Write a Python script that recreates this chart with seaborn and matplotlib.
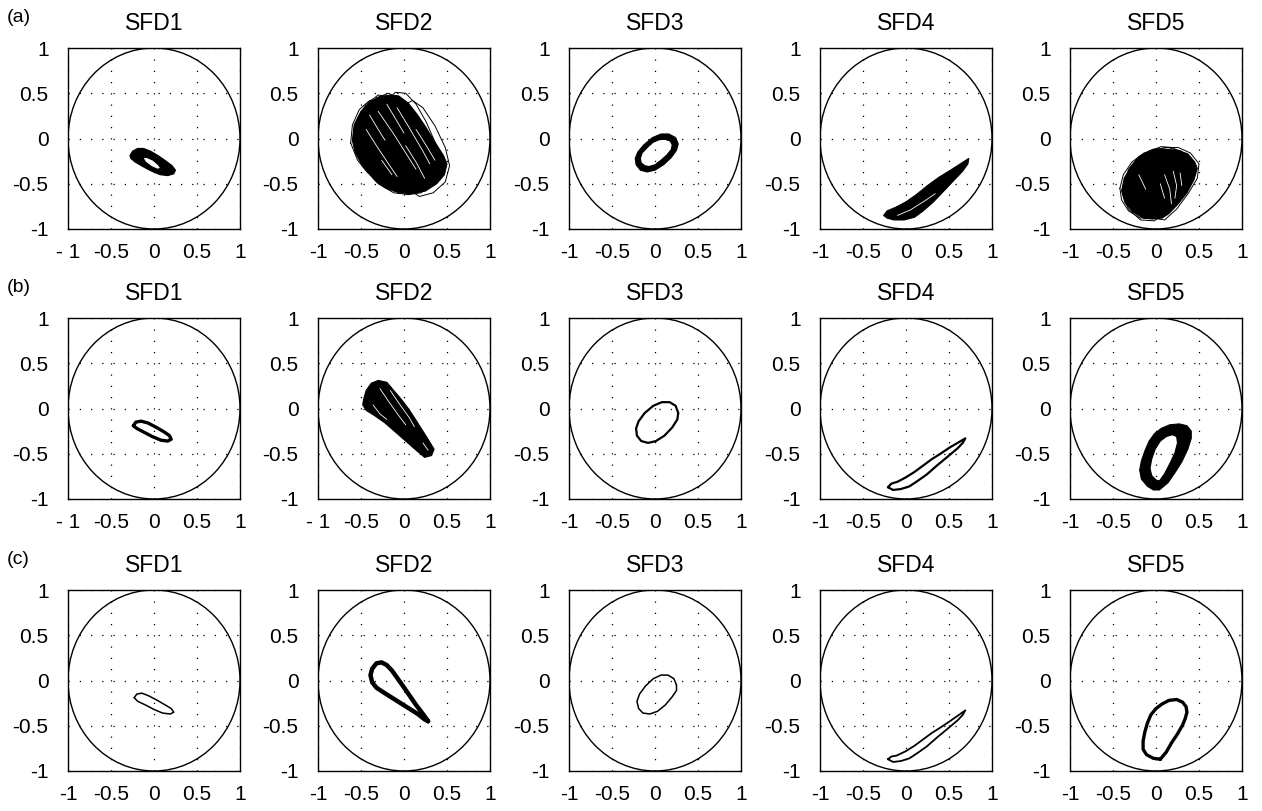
import numpy as np
import pandas as pd
import matplotlib
matplotlib.use('Agg')
import matplotlib.pyplot as plt
from matplotlib.patches import Circle, PathPatch
from matplotlib.path import Path
import seaborn as sns

# Orbit data (journal coordinates, clearance circle radius = 1)
row_labels = ['(a)', '(b)', '(c)']
sfd_names = ['SFD1', 'SFD2', 'SFD3', 'SFD4', 'SFD5']
tick_vals = [-1, -0.5, 0, 0.5, 1]
tick_labels = ['-1', '-0.5', '0', '0.5', '1']
tick_labels_gap = ['- 1', '-0.5', '0', '0.5', '1']

# ---- row (a) ----
a1_outer = [(-0.28, -0.19), (-0.25, -0.14), (-0.19, -0.11), (-0.12, -0.11), (-0.04, -0.14),
            (0.05, -0.19), (0.14, -0.25), (0.21, -0.30), (0.25, -0.35), (0.23, -0.39),
            (0.16, -0.41), (0.07, -0.40), (-0.03, -0.36), (-0.13, -0.31), (-0.22, -0.26),
            (-0.27, -0.22)]
a1_inner = [(-0.13, -0.21), (-0.08, -0.21), (-0.01, -0.24), (0.05, -0.29), (0.08, -0.33),
            (0.04, -0.34), (-0.03, -0.31), (-0.10, -0.26)]

a2_core = [(-0.16, 0.48), (-0.06, 0.47), (0.05, 0.39), (0.15, 0.27), (0.25, 0.13), (0.36, -0.04),
           (0.46, -0.19), (0.50, -0.28), (0.47, -0.40), (0.38, -0.50), (0.25, -0.58), (0.10, -0.61),
           (-0.06, -0.60), (-0.21, -0.55), (-0.34, -0.46), (-0.48, -0.31), (-0.57, -0.15),
           (-0.60, -0.02), (-0.58, 0.15), (-0.50, 0.30), (-0.39, 0.41), (-0.28, 0.46)]
a2_loop1 = [(-0.62, -0.05), (-0.60, 0.15), (-0.52, 0.32), (-0.40, 0.42), (-0.28, 0.43), (-0.18, 0.34),
            (-0.10, 0.18), (-0.05, -0.02), (-0.06, -0.22), (-0.14, -0.38), (-0.28, -0.44),
            (-0.42, -0.38), (-0.54, -0.24)]
a2_loop2 = [(-0.50, 0.10), (-0.44, 0.30), (-0.32, 0.45), (-0.18, 0.50), (-0.06, 0.44), (0.04, 0.28),
            (0.12, 0.08), (0.16, -0.14), (0.12, -0.36), (0.00, -0.52), (-0.16, -0.56), (-0.32, -0.48),
            (-0.44, -0.28), (-0.50, -0.08)]
a2_loop3 = [(-0.30, 0.20), (-0.22, 0.40), (-0.10, 0.51), (0.02, 0.50), (0.14, 0.38), (0.26, 0.18),
            (0.36, -0.04), (0.40, -0.26), (0.34, -0.46), (0.20, -0.60), (0.04, -0.62), (-0.12, -0.52),
            (-0.24, -0.30), (-0.30, -0.04)]
a2_loop4 = [(-0.12, 0.18), (-0.02, 0.36), (0.10, 0.42), (0.22, 0.34), (0.36, 0.14), (0.48, -0.10),
            (0.53, -0.30), (0.48, -0.48), (0.34, -0.60), (0.18, -0.64), (0.04, -0.56), (-0.06, -0.36),
            (-0.12, -0.10)]
a2_loop5 = [(-0.58, 0.00), (-0.54, 0.22), (-0.44, 0.38), (-0.30, 0.48), (-0.14, 0.46), (0.00, 0.32),
            (0.14, 0.10), (0.26, -0.14), (0.30, -0.36), (0.22, -0.54), (0.06, -0.62), (-0.12, -0.60),
            (-0.30, -0.50), (-0.46, -0.32)]
a2_streaks = [[(-0.30, 0.30), (-0.12, 0.05), (0.06, -0.22), (0.14, -0.34)],
              [(-0.08, 0.34), (0.06, 0.12), (0.22, -0.14), (0.30, -0.28)],
              [(-0.44, 0.10), (-0.32, -0.08), (-0.18, -0.28), (-0.08, -0.42)],
              [(0.02, -0.08), (0.14, -0.26), (0.24, -0.44)],
              [(-0.20, 0.38), (-0.10, 0.22), (0.00, 0.06)],
              [(-0.40, 0.26), (-0.30, 0.10), (-0.22, -0.02)],
              [(0.14, 0.10), (0.26, -0.08), (0.36, -0.24)],
              [(-0.26, -0.24), (-0.14, -0.40)]]

a3_outer = [(0.27, -0.06), (0.24, 0.01), (0.16, 0.05), (0.07, 0.05), (-0.03, 0.01), (-0.13, -0.07),
            (-0.20, -0.15), (-0.23, -0.22), (-0.22, -0.29), (-0.17, -0.35), (-0.09, -0.37),
            (0.00, -0.35), (0.10, -0.29), (0.19, -0.21), (0.25, -0.13)]
a3_inner = [(0.20, -0.07), (0.18, -0.03), (0.12, -0.01), (0.06, -0.01), (-0.02, -0.04), (-0.09, -0.10),
            (-0.15, -0.16), (-0.17, -0.22), (-0.16, -0.27), (-0.12, -0.30), (-0.07, -0.31),
            (0.00, -0.29), (0.07, -0.24), (0.14, -0.18), (0.19, -0.12)]

a4_outer = [(-0.26, -0.85), (-0.22, -0.80), (-0.12, -0.76), (0.00, -0.70), (0.12, -0.62), (0.25, -0.52),
            (0.38, -0.43), (0.50, -0.36), (0.60, -0.30), (0.68, -0.25), (0.73, -0.22), (0.72, -0.28),
            (0.66, -0.36), (0.56, -0.46), (0.44, -0.58), (0.32, -0.70), (0.20, -0.80), (0.10, -0.87),
            (-0.02, -0.90), (-0.14, -0.90), (-0.22, -0.88)]
a4_streaks = [[(-0.10, -0.85), (0.05, -0.79), (0.20, -0.70), (0.34, -0.61)]]

a5_core = [(0.01, -0.12), (0.12, -0.12), (0.25, -0.13), (0.37, -0.17), (0.45, -0.26), (0.48, -0.33),
           (0.44, -0.46), (0.36, -0.60), (0.26, -0.72), (0.15, -0.83), (0.07, -0.88), (-0.04, -0.89),
           (-0.15, -0.88), (-0.27, -0.81), (-0.36, -0.71), (-0.40, -0.58), (-0.37, -0.44),
           (-0.29, -0.31), (-0.19, -0.20), (-0.08, -0.14)]
a5_loop1 = [(-0.42, -0.55), (-0.38, -0.40), (-0.28, -0.26), (-0.14, -0.16), (0.00, -0.12), (0.12, -0.16),
            (0.18, -0.28), (0.16, -0.48), (0.08, -0.68), (-0.04, -0.84), (-0.18, -0.88), (-0.32, -0.80),
            (-0.40, -0.68)]
a5_loop2 = [(-0.30, -0.45), (-0.22, -0.28), (-0.08, -0.14), (0.06, -0.09), (0.20, -0.10), (0.30, -0.18),
            (0.32, -0.34), (0.26, -0.54), (0.14, -0.74), (0.00, -0.88), (-0.14, -0.88), (-0.26, -0.76),
            (-0.32, -0.60)]
a5_loop3 = [(-0.12, -0.36), (-0.04, -0.18), (0.10, -0.10), (0.26, -0.10), (0.40, -0.16), (0.50, -0.28),
            (0.48, -0.44), (0.38, -0.60), (0.24, -0.78), (0.10, -0.90), (-0.04, -0.88), (-0.12, -0.72),
            (-0.14, -0.54)]
a5_loop4 = [(-0.36, -0.50), (-0.32, -0.34), (-0.20, -0.20), (-0.04, -0.12), (0.14, -0.10), (0.30, -0.14),
            (0.40, -0.26), (0.38, -0.44), (0.28, -0.62), (0.14, -0.80), (-0.02, -0.91), (-0.18, -0.90),
            (-0.32, -0.78), (-0.38, -0.64)]
a5_streaks = [[(0.10, -0.40), (0.16, -0.56), (0.18, -0.72)],
              [(0.20, -0.36), (0.24, -0.52), (0.22, -0.66)],
              [(0.05, -0.50), (0.10, -0.66)],
              [(0.28, -0.38), (0.30, -0.52)],
              [(-0.20, -0.40), (-0.12, -0.56)]]

# ---- row (b) ----
b1_orbit = [(-0.24, -0.19), (-0.21, -0.15), (-0.15, -0.14), (-0.07, -0.16), (0.03, -0.21), (0.12, -0.26),
            (0.18, -0.30), (0.20, -0.34), (0.16, -0.36), (0.08, -0.35), (-0.02, -0.31), (-0.12, -0.26),
            (-0.20, -0.22)]

b2_outer = [(-0.47, 0.10), (-0.44, 0.20), (-0.38, 0.28), (-0.30, 0.31), (-0.20, 0.29), (-0.12, 0.20),
            (-0.03, 0.10), (0.05, 0.00), (0.12, -0.10), (0.20, -0.22), (0.28, -0.34), (0.35, -0.45),
            (0.32, -0.52), (0.24, -0.54), (0.14, -0.46), (0.02, -0.36), (-0.10, -0.26), (-0.22, -0.16),
            (-0.34, -0.08), (-0.44, -0.02), (-0.48, 0.04)]
b2_streaks = [[(-0.28, 0.22), (-0.18, 0.08), (-0.06, -0.08), (0.02, -0.18)],
              [(-0.16, 0.20), (-0.06, 0.06), (0.06, -0.10), (0.12, -0.20)],
              [(-0.36, 0.04), (-0.28, -0.06), (-0.20, -0.12)],
              [(0.22, -0.38), (0.28, -0.46)]]

b3_orbit = [(0.27, -0.05), (0.24, 0.03), (0.17, 0.07), (0.08, 0.07), (-0.02, 0.03), (-0.12, -0.05),
            (-0.19, -0.14), (-0.22, -0.22), (-0.21, -0.30), (-0.16, -0.36), (-0.08, -0.38),
            (0.01, -0.36), (0.11, -0.30), (0.20, -0.21), (0.26, -0.12)]

b4_orbit = [(-0.21, -0.87), (-0.17, -0.83), (-0.10, -0.81), (0.00, -0.76), (0.10, -0.70), (0.20, -0.63),
            (0.30, -0.56), (0.40, -0.50), (0.51, -0.43), (0.60, -0.38), (0.69, -0.33), (0.66, -0.38),
            (0.60, -0.44), (0.50, -0.52), (0.36, -0.63), (0.24, -0.73), (0.12, -0.81), (0.04, -0.86),
            (-0.06, -0.89), (-0.15, -0.90)]

b5_outer = [(0.04, -0.90), (0.14, -0.82), (0.22, -0.71), (0.30, -0.59), (0.37, -0.45), (0.41, -0.33),
            (0.41, -0.25), (0.36, -0.19), (0.27, -0.17), (0.16, -0.18), (0.06, -0.22), (-0.02, -0.28),
            (-0.08, -0.36), (-0.13, -0.47), (-0.17, -0.58), (-0.19, -0.68), (-0.17, -0.78),
            (-0.10, -0.86), (-0.03, -0.90)]
b5_inner = [(0.04, -0.80), (0.10, -0.72), (0.16, -0.61), (0.22, -0.49), (0.25, -0.38), (0.24, -0.31),
            (0.19, -0.29), (0.12, -0.31), (0.05, -0.36), (-0.01, -0.45), (-0.05, -0.56), (-0.07, -0.66),
            (-0.05, -0.74), (0.00, -0.79)]

# ---- row (c) ----
c1_orbit = [(-0.23, -0.19), (-0.20, -0.15), (-0.14, -0.14), (-0.06, -0.17), (0.04, -0.22), (0.13, -0.27),
            (0.20, -0.31), (0.23, -0.35), (0.19, -0.37), (0.10, -0.36), (0.00, -0.32), (-0.10, -0.27),
            (-0.19, -0.23)]

c2_orbit = [(0.28, -0.45), (0.22, -0.37), (0.14, -0.27), (0.06, -0.16), (-0.02, -0.05), (-0.08, 0.03),
            (-0.14, 0.11), (-0.20, 0.17), (-0.26, 0.20), (-0.32, 0.19), (-0.37, 0.13), (-0.39, 0.06),
            (-0.37, -0.02), (-0.32, -0.08), (-0.24, -0.13), (-0.14, -0.19), (-0.04, -0.25),
            (0.06, -0.31), (0.16, -0.37), (0.24, -0.43)]

c3_orbit = [(0.25, -0.05), (0.22, 0.02), (0.15, 0.06), (0.07, 0.06), (-0.02, 0.02), (-0.11, -0.06),
            (-0.18, -0.15), (-0.21, -0.23), (-0.19, -0.31), (-0.14, -0.36), (-0.06, -0.37),
            (0.03, -0.34), (0.12, -0.27), (0.20, -0.18), (0.25, -0.11)]

c4_orbit = [(-0.21, -0.87), (-0.17, -0.84), (-0.11, -0.83), (0.00, -0.78), (0.10, -0.72), (0.20, -0.65),
            (0.30, -0.58), (0.40, -0.52), (0.51, -0.45), (0.60, -0.39), (0.69, -0.33), (0.66, -0.38),
            (0.60, -0.44), (0.50, -0.52), (0.36, -0.63), (0.24, -0.73), (0.12, -0.81), (0.04, -0.86),
            (-0.06, -0.89), (-0.15, -0.90)]

c5_orbit = [(0.05, -0.87), (0.12, -0.79), (0.18, -0.69), (0.25, -0.59), (0.31, -0.49), (0.34, -0.42),
            (0.36, -0.35), (0.35, -0.29), (0.31, -0.24), (0.24, -0.21), (0.15, -0.22), (0.07, -0.26),
            (0.00, -0.31), (-0.06, -0.38), (-0.10, -0.47), (-0.13, -0.57), (-0.15, -0.67),
            (-0.15, -0.76), (-0.11, -0.82), (-0.03, -0.86)]

# what goes in each panel: bands (filled, optional hole), black curves (pts, lw), white streaks
panels = {
    (0, 0): dict(bands=[(a1_outer, a1_inner)]),
    (0, 1): dict(bands=[(a2_core, None)],
                 lines=[(a2_loop1, 0.7), (a2_loop2, 0.7), (a2_loop3, 0.7), (a2_loop4, 0.7), (a2_loop5, 0.7)],
                 streaks=a2_streaks),
    (0, 2): dict(bands=[(a3_outer, a3_inner)]),
    (0, 3): dict(bands=[(a4_outer, None)], streaks=a4_streaks),
    (0, 4): dict(bands=[(a5_core, None)],
                 lines=[(a5_loop1, 0.7), (a5_loop2, 0.7), (a5_loop3, 0.7), (a5_loop4, 0.7)],
                 streaks=a5_streaks),
    (1, 0): dict(lines=[(b1_orbit, 2.4)]),
    (1, 1): dict(bands=[(b2_outer, None)], streaks=b2_streaks),
    (1, 2): dict(lines=[(b3_orbit, 1.6)]),
    (1, 3): dict(lines=[(b4_orbit, 1.6)]),
    (1, 4): dict(bands=[(b5_outer, b5_inner)]),
    (2, 0): dict(lines=[(c1_orbit, 1.1)]),
    (2, 1): dict(lines=[(c2_orbit, 3.2)]),
    (2, 2): dict(lines=[(c3_orbit, 1.1)]),
    (2, 3): dict(lines=[(c4_orbit, 1.3)]),
    (2, 4): dict(lines=[(c5_orbit, 2.4)]),
}
gap_label_axes = [(0, 0), (1, 0), (1, 1)]

sns.set_theme(style='white')
plt.rcParams['font.family'] = ['Liberation Sans', 'DejaVu Sans']
plt.rcParams['axes.unicode_minus'] = False

W_PX, H_PX = 1262, 811
fig = plt.figure(figsize=(W_PX / 100, H_PX / 100), dpi=100)
col_left = [68, 318, 569, 820, 1070]
row_top = [48, 318, 590]
ax_w, ax_h = 172, 181


def closed_df(pts):
    pts = list(pts) + [pts[0]]
    return pd.DataFrame(pts, columns=['x', 'y'])


def add_band(ax, outer, inner):
    verts = list(outer) + [outer[0]]
    codes = [Path.MOVETO] + [Path.LINETO] * (len(outer) - 1) + [Path.CLOSEPOLY]
    if inner is not None:
        rev = list(inner)[::-1]
        verts += rev + [rev[0]]
        codes += [Path.MOVETO] + [Path.LINETO] * (len(rev) - 1) + [Path.CLOSEPOLY]
    ax.add_patch(PathPatch(Path(verts, codes), fc='black', ec='black', lw=0.8,
                           joinstyle='round', zorder=3))


for r in range(3):
    for c in range(5):
        left = col_left[c] / W_PX
        bottom = 1 - (row_top[r] + ax_h) / H_PX
        ax = fig.add_axes([left, bottom, ax_w / W_PX, ax_h / H_PX])
        spec = panels[(r, c)]

        for outer, inner in spec.get('bands', []):
            add_band(ax, outer, inner)
        for pts, lw in spec.get('lines', []):
            sns.lineplot(data=closed_df(pts), x='x', y='y', sort=False, estimator=None,
                         color='black', lw=lw, ax=ax, zorder=4, solid_joinstyle='round')
        for pts in spec.get('streaks', []):
            df = pd.DataFrame(pts, columns=['x', 'y'])
            sns.lineplot(data=df, x='x', y='y', sort=False, estimator=None,
                         color='white', lw=0.6, ax=ax, zorder=5)

        ax.add_patch(Circle((0, 0), 1, fill=False, ec='black', lw=1.0, zorder=2))
        ax.set_xlim(-1, 1)
        ax.set_ylim(-1, 1)
        ax.set_xticks(tick_vals)
        ax.set_yticks(tick_vals)
        ax.set_xticklabels(tick_labels_gap if (r, c) in gap_label_axes else tick_labels)
        ax.set_yticklabels(tick_labels)
        ax.tick_params(length=0, labelsize=15, colors='black')
        ax.tick_params(axis='x', pad=10)
        ax.tick_params(axis='y', pad=14)
        ax.set_xlabel('')
        ax.set_ylabel('')
        ax.grid(True, color='black', lw=0.9, linestyle=(0, (1, 8)))
        ax.set_axisbelow(True)
        for sp in ax.spines.values():
            sp.set_color('black')
            sp.set_linewidth(1.0)
        ax.set_title(sfd_names[c], fontsize=16.5, pad=13, color='black')

    fig.text(7 / W_PX, 1 - (row_top[r] - 30) / H_PX, row_labels[r], fontsize=14,
             ha='left', va='center', color='black')

fig.savefig('out.png', dpi=100, facecolor='white')
